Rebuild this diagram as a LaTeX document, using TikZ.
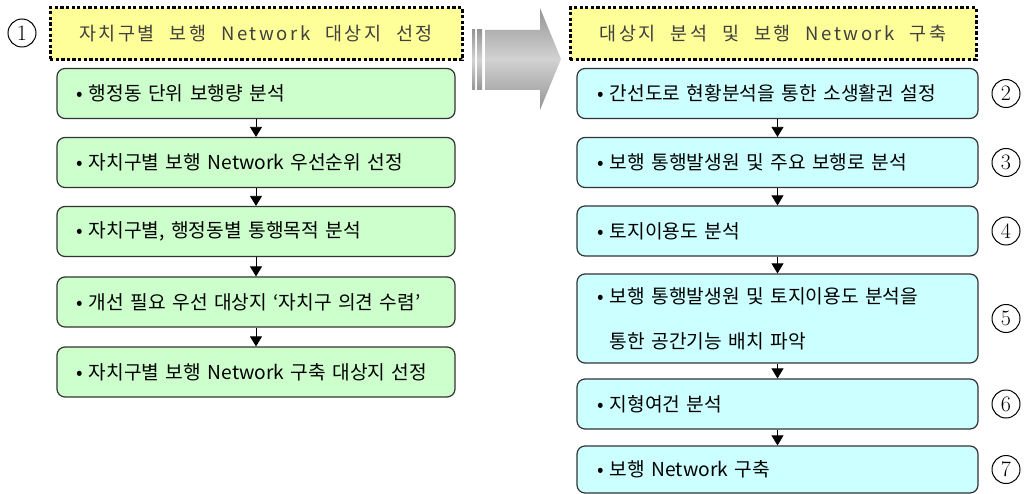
\documentclass[tikz,border=0pt]{standalone}
\usepackage{fontspec}
\usetikzlibrary{arrows.meta}
\newfontfamily\kr{Noto Sans CJK KR}[WordSpace=2.5]
\newfontfamily\krh{Noto Sans CJK KR}[LetterSpace=14,WordSpace=2.2]
\definecolor{hdrfill}{HTML}{FFFF99}
\definecolor{grn}{HTML}{CCFFCC}
\definecolor{cyn}{HTML}{CCFFFF}
\definecolor{edge}{HTML}{333333}
\definecolor{gdark}{HTML}{959595}
\definecolor{glight}{HTML}{D2D2D2}
\begin{document}
\begin{tikzpicture}[x=1pt,y=-1pt,
  hdr/.style={draw=black, line width=3pt, dash pattern=on 3.3pt off 2.3pt, fill=hdrfill,
    minimum height=52pt, inner sep=0pt, font=\krh\fontsize{18.5}{22}\selectfont, text=black!75},
  stepbox/.style={draw=edge, line width=1.2pt, rounded corners=8pt, minimum height=50pt,
    align=left, inner ysep=0pt, font=\kr\fontsize{19.2}{22}\selectfont},
  lbox/.style={stepbox, fill=grn, text width=360pt, inner xsep=19pt},
  rbox/.style={stepbox, fill=cyn, text width=361pt, inner xsep=20pt},
  num/.style={circle, draw, line width=1pt, minimum size=28pt, inner sep=0pt,
    font=\fontsize{22}{22}\selectfont},
  flow/.style={-{Triangle[width=12pt,length=10pt]}, line width=0.8pt}]
\useasboundingbox (0,0) rectangle (1032,494);

% big gray arrow
\shade[top color=gdark, bottom color=gdark, middle color=glight]
  (472,30) rectangle (475,90);
\shade[top color=gdark, bottom color=gdark, middle color=glight]
  (477,30) rectangle (482,90);
\shade[top color=gdark, bottom color=gdark, middle color=glight]
  (485,30) -- (540,30) -- (540,8) -- (561,59) -- (540,110) -- (540,90) -- (485,90) -- cycle;

% headers
\node[hdr, minimum width=412pt] (h1) at (256,34) {자치구별 보행 Network 대상지 선정};
\node[hdr, minimum width=406pt] (h2) at (773,34) {대상지 분석 및 보행 Network 구축};

% left column
\node[lbox] (l1) at (256,93.5) {• 행정동 단위 보행량 분석};
\node[lbox] (l2) at (256,162.5) {• 자치구별 보행 Network 우선순위 선정};
\node[lbox] (l3) at (256,231.5) {• 자치구별, 행정동별 통행목적 분석};
\node[lbox] (l4) at (256,302) {• 개선 필요 우선 대상지 ‘자치구 의견 수렴’};
\node[lbox] (l5) at (256,372) {• 자치구별 보행 Network 구축 대상지 선정};

% right column
\node[rbox] (r1) at (777.5,93.5) {• 간선도로 현황분석을 통한 소생활권 설정};
\node[rbox] (r2) at (777.5,162.5) {• 보행 통행발생원 및 주요 보행로 분석};
\node[rbox] (r3) at (777.5,231) {• 토지이용도 분석};
\node[rbox, minimum height=89pt] (r4) at (777.5,318.5)
  {• 보행 통행발생원 및 토지이용도 분석을\\[23pt]\phantom{•\ }통한 공간기능 배치 파악};
\node[rbox] (r5) at (777.5,404) {• 지형여건 분석};
\node[rbox, minimum height=47pt] (r6) at (777.5,469.5) {• 보행 Network 구축};

% connectors
\draw[flow] (l1) -- (l2);
\draw[flow] (l2) -- (l3);
\draw[flow] (l3) -- (l4);
\draw[flow] (l4) -- (l5);
\draw[flow] (r1) -- (r2);
\draw[flow] (r2) -- (r3);
\draw[flow] (r3) -- (r4);
\draw[flow] (r4) -- (r5);
\draw[flow] (r5) -- (r6);

% numbers
\node[num] (n1) at (22,33) {1};
\node[num] (n2) at (1006,93.5) {2};
\node[num] (n3) at (1006,162.5) {3};
\node[num] (n4) at (1006,231) {4};
\node[num] (n5) at (1006,318.5) {5};
\node[num] (n6) at (1006,404) {6};
\node[num] (n7) at (1006,469.5) {7};
\end{tikzpicture}
\end{document}
